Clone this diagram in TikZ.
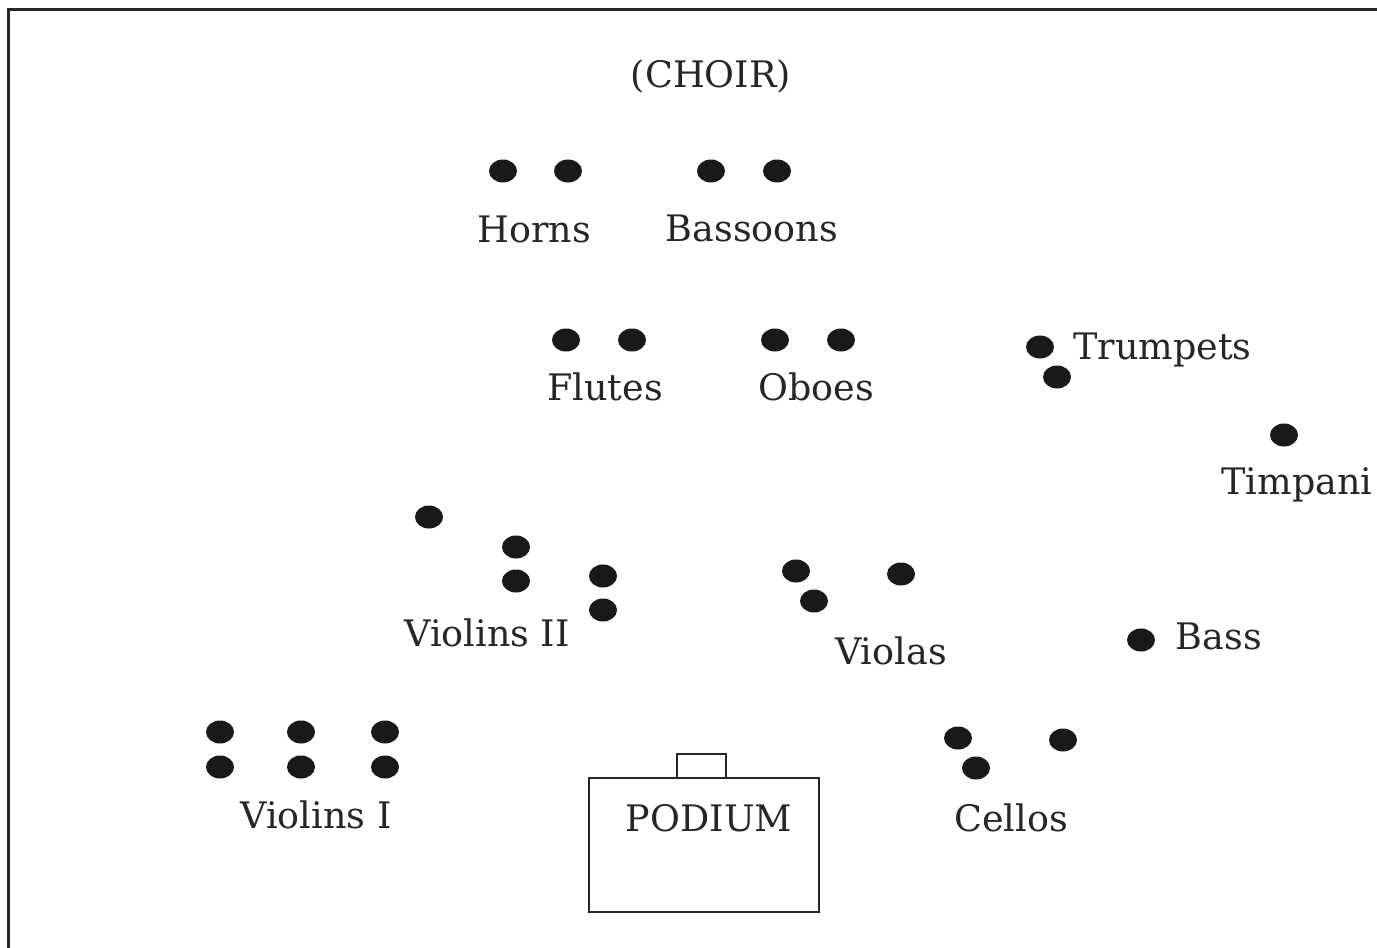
\documentclass[tikz,border=0pt]{standalone}
\usepackage{fontspec}
\setmainfont{DejaVu Serif}
\usetikzlibrary{shapes.geometric}
\begin{document}
\begin{tikzpicture}[x=1pt,y=-1pt,
  seat/.style={ellipse,fill=black!90,draw=none,minimum width=28pt,minimum height=23pt,inner sep=0pt},
  lbl/.style={anchor=base,inner sep=0pt,text=black!85,font=\fontsize{36.5}{40}\selectfont},
  frame/.style={draw=black!85,line width=3pt},
  box/.style={draw=black!85,line width=2.6pt}]
\useasboundingbox (0,0) rectangle (1377,948);
\begin{scope}
\clip (0,0) rectangle (1377,948);
\draw[frame] (8.5,9.5) rectangle (1400,980);
\end{scope}
% labels
\node[lbl] (choir) at (711,87) {(CHOIR)};
\node[lbl] (horns) at (534,242) {Horns};
\node[lbl] (bassoons) at (752,241) {Bassoons};
\node[lbl] (flutes) at (605,400) {Flutes};
\node[lbl] (oboes) at (816,400) {Oboes};
\node[lbl,anchor=base west] (trumpets) at (1073,359) {Trumpets};
\node[lbl] (timpani) at (1297,494) {Timpani};
\node[lbl] (violins2) at (487,646) {Violins II};
\node[lbl] (violas) at (891,664) {Violas};
\node[lbl] (bass) at (1219,649) {Bass};
\node[lbl] (violins1) at (316,828) {Violins I};
\node[lbl] (cellos) at (1011,831) {Cellos};
% podium
\draw[box] (589,778) rectangle (819,912);
\draw[box] (677,754) rectangle (726,778);
\node[lbl] (podium) at (709,831) {PODIUM};
% seats
\foreach \n/\p in {h1/{503,171},h2/{568,171},b1/{711,171},b2/{777,171},
  f1/{566,340},f2/{632,340},o1/{775,340},o2/{841,340},
  t1/{1040,347},t2/{1057,377},tp/{1284,435},
  v21/{429,517},v22/{516,547},v23/{516,581},v24/{603,576},v25/{603,610},
  va1/{796,571},va2/{814,601},va3/{901,574},ba/{1141,640},
  v11/{220,732},v12/{301,732},v13/{385,732},v14/{220,767},v15/{301,767},v16/{385,767},
  c1/{958,738},c2/{976,768},c3/{1063,740}}
  \node[seat] (\n) at (\p) {};
\end{tikzpicture}
\end{document}
